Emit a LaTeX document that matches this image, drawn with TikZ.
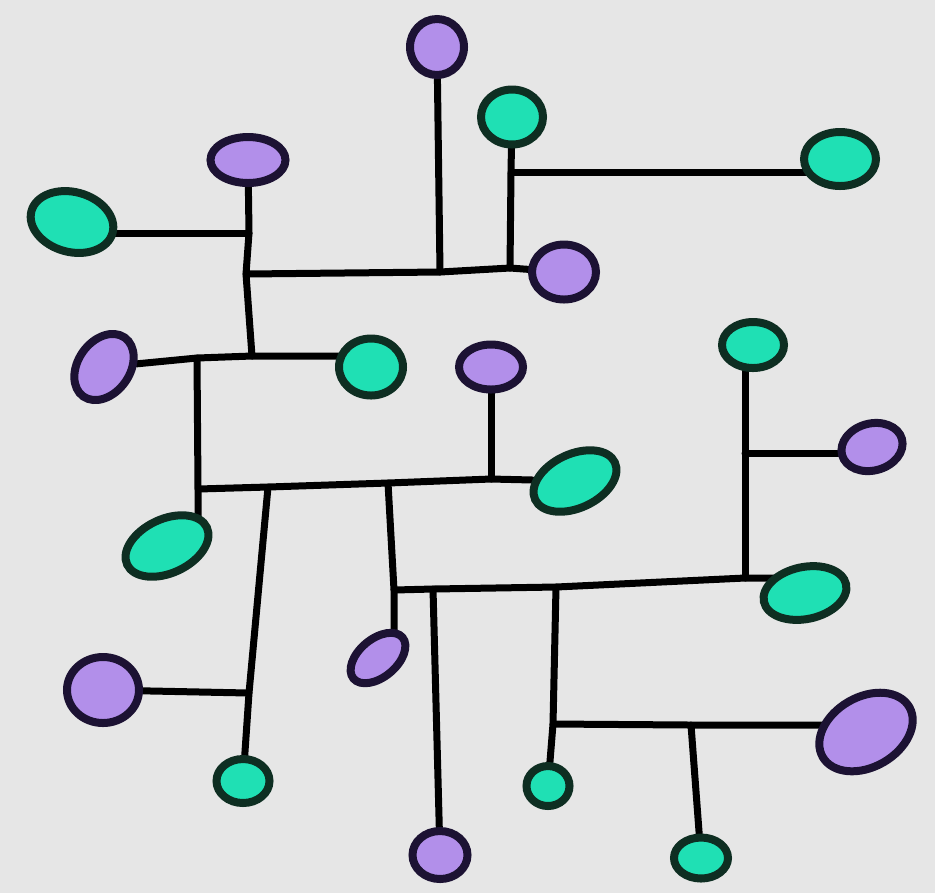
\documentclass[tikz,border=0pt]{standalone}
\usepackage{tikz}
\usetikzlibrary{shapes.geometric}
\definecolor{paper}{HTML}{E6E6E6}
\definecolor{lilafill}{HTML}{B28FEA}
\definecolor{lilaline}{HTML}{1C1233}
\definecolor{mintfill}{HTML}{1FE0B4}
\definecolor{mintline}{HTML}{0E2E22}
\pgfdeclarelayer{wires}
\pgfsetlayers{wires,main}

\begin{document}
\begin{tikzpicture}[x=0.1mm, y=-0.1mm,
    lila/.style={ellipse, draw=lilaline, fill=lilafill, line width=0.8mm, inner sep=0pt},
    mint/.style={ellipse, draw=mintline, fill=mintfill, line width=0.8mm, inner sep=0pt},
    wire/.style={line width=0.7mm, line cap=round, line join=round}
]
\useasboundingbox (0,0) rectangle (935,893);

% 紫のノード
\node[lila, minimum width=5.4mm, minimum height=5.6mm] (p1) at (437,47) {};
\node[lila, minimum width=7.5mm, minimum height=4.6mm] (p2) at (248,160) {};
\node[lila, minimum width=6.4mm, minimum height=5.5mm] (p3) at (564,272) {};
\node[lila, minimum width=5.2mm, minimum height=7.2mm, rotate=-35] (p4) at (104,367) {};
\node[lila, minimum width=6.4mm, minimum height=4.5mm] (p5) at (491,367) {};
\node[lila, minimum width=6.2mm, minimum height=4.7mm, rotate=15] (p6) at (872,447) {};
\node[lila, minimum width=6.4mm, minimum height=3.8mm, rotate=40] (p7) at (378,658) {};
\node[lila, minimum width=7.2mm, minimum height=6.6mm] (p8) at (103,690) {};
\node[lila, minimum width=10mm, minimum height=7mm, rotate=30] (p9) at (866,732) {};
\node[lila, minimum width=5.5mm, minimum height=4.8mm] (p10) at (440,855) {};

% 緑のノード
\node[mint, minimum width=6.2mm, minimum height=5.5mm] (g1) at (512,117) {};
\node[mint, minimum width=7.2mm, minimum height=5.4mm] (g2) at (840,159) {};
\node[mint, minimum width=8.4mm, minimum height=6mm, rotate=-15] (g3) at (72,222) {};
\node[mint, minimum width=6.4mm, minimum height=5.7mm] (g4) at (371,367) {};
\node[mint, minimum width=6.2mm, minimum height=4.6mm] (g5) at (753,345) {};
\node[mint, minimum width=8.8mm, minimum height=5.4mm, rotate=25] (g6) at (575,481) {};
\node[mint, minimum width=8.8mm, minimum height=5.4mm, rotate=25] (g7) at (167,546) {};
\node[mint, minimum width=8.4mm, minimum height=5.2mm, rotate=12] (g8) at (805,593) {};
\node[mint, minimum width=5.3mm, minimum height=4.4mm] (g9) at (243,781) {};
\node[mint, minimum width=4.3mm, minimum height=4mm] (g10) at (548,786) {};
\node[mint, minimum width=5.4mm, minimum height=4.1mm] (g11) at (701,858) {};

% 分岐点
\coordinate (ja) at (252,356);
\coordinate (jb) at (249,233);
\coordinate (jc) at (246,274);
\coordinate (jd) at (440,272);
\coordinate (je) at (510,268);
\coordinate (jf) at (511,172);
\coordinate (jg) at (197,358);
\coordinate (jh) at (198,489);
\coordinate (ji) at (268,487);
\coordinate (jj) at (249,693);
\coordinate (jk) at (388,483);
\coordinate (jl) at (491,479);
\coordinate (jm) at (394,590);
\coordinate (jn) at (433,589);
\coordinate (jo) at (556,587);
\coordinate (jp) at (745,578);
\coordinate (jq) at (745,453);
\coordinate (jr) at (553,724);
\coordinate (js) at (691,725);

% 枝
\begin{pgfonlayer}{wires}
\fill[paper] (0,0) rectangle (935,893);
\draw[wire] (p2) -- (jb) -- (jc) -- (ja);
\draw[wire] (jb -| g3) -- (jb);
\draw[wire] (jc) -- (jd) -- (je) -- (p3);
\draw[wire] (p1) -- (jd);
\draw[wire] (g1) -- (jf) -- (je);
\draw[wire] (jf) -- (jf -| g2);
\draw[wire] (p4) -- (jg) -- (ja) -- (ja -| g4);
\draw[wire] (jg) -- (jh) -- (jh |- g7);
\draw[wire] (jh) -- (ji) -- (jk) -- (jl) -- (g6);
\draw[wire] (p5) -- (jl);
\draw[wire] (ji) -- (jj) -- (g9);
\draw[wire] (p8) -- (jj);
\draw[wire] (jk) -- (jm) -- (jm |- p7);
\draw[wire] (jm) -- (jn) -- (jo) -- (jp) -- (jp -| g8);
\draw[wire] (jq |- g5) -- (jq) -- (jp);
\draw[wire] (jq) -- (jq -| p6);
\draw[wire] (jn) -- (p10);
\draw[wire] (jo) -- (jr) -- (g10);
\draw[wire] (jr) -- (js) -- (js -| p9);
\draw[wire] (js) -- (g11);
\end{pgfonlayer}

\end{tikzpicture}
\end{document}
